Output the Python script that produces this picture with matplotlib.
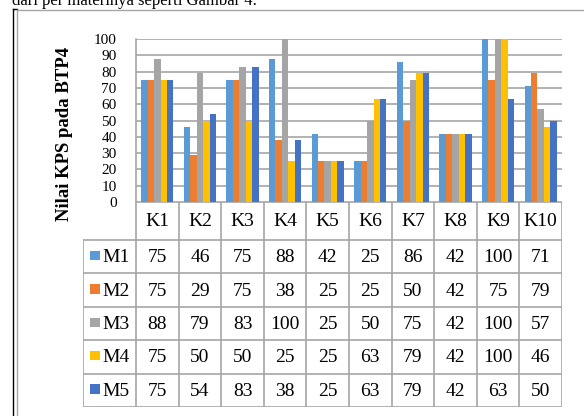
import numpy as np
import matplotlib.pyplot as plt
from matplotlib.patches import Rectangle
from matplotlib.lines import Line2D

plt.rcParams['font.family'] = ['Liberation Serif', 'DejaVu Serif']

categories = ["K1", "K2", "K3", "K4", "K5", "K6", "K7", "K8", "K9", "K10"]
series = ["M1", "M2", "M3", "M4", "M5"]
m1 = [75, 46, 75, 88, 42, 25, 86, 42, 100, 71]
m2 = [75, 29, 75, 38, 25, 25, 50, 42, 75, 79]
m3 = [88, 79, 83, 100, 25, 50, 75, 42, 100, 57]
m4 = [75, 50, 50, 25, 25, 63, 79, 42, 100, 46]
m5 = [75, 54, 83, 38, 25, 63, 79, 42, 63, 50]
values = [m1, m2, m3, m4, m5]
colors = ["#5B9BD5", "#ED7D31", "#A5A5A5", "#FFC000", "#4472C4"]
grid_c = "#A6A6A6"

W, H = 584, 416
fig = plt.figure(figsize=(W / 100, H / 100), dpi=100)


def fbox(x0, y0, x1, y1):
    # pixel box (top-left origin) -> figure fraction rect
    return [x0 / W, 1 - y1 / H, (x1 - x0) / W, (y1 - y0) / H]


# page frame and the caption line running off the top
fig.add_artist(Line2D([12.5 / W, 12.5 / W], [0, 1 - 9 / H], color="black", lw=1.0))
fig.add_artist(Line2D([12.5 / W, 16.5 / W], [1 - 9 / H, 1 - 9 / H], color="black", lw=1.0))
fig.add_artist(Line2D([16.5 / W, 16.5 / W], [0, 1 - 10 / H], color=grid_c, lw=1.0))
fig.add_artist(Line2D([16.5 / W, 1], [1 - 10 / H, 1 - 10 / H], color=grid_c, lw=1.0))
fig.text(12 / W, 1 - 5 / H, "dari per materinya seperti Gambar 4.", fontsize=12,
         va="baseline", ha="left")

# bar chart
ax = fig.add_axes(fbox(136, 39, 562, 202))
x = np.arange(len(categories))
bw = 0.152
for i, (name, vals) in enumerate(zip(series, values)):
    ax.bar(x + (i - 2) * bw, vals, bw, color=colors[i], zorder=3)
ax.set_xlim(-0.5, len(categories) - 0.5)
ax.set_ylim(0, 100)
ax.set_yticks(range(0, 101, 10))
ax.set_xticks([])
ax.yaxis.grid(True, color=grid_c, lw=1.2, zorder=0)
for s in ["top", "right", "bottom"]:
    ax.spines[s].set_visible(False)
ax.spines["left"].set_color(grid_c)
ax.spines["left"].set_linewidth(1.2)
ax.tick_params(axis="y", length=0, pad=14, labelsize=11)
ax.set_ylabel("Nilai KPS pada BTP4", fontsize=13.5, fontweight="bold", labelpad=15)
ax.yaxis.label.set_y(0.42)

# data table under the bars
tab = fig.add_axes(fbox(83, 202, 562, 407))
leg_w = 53 / 42.6
hdr = 38
row = (205 - hdr) / len(series)
tab.set_xlim(-0.5 - leg_w, len(categories) - 0.5)
tab.set_ylim(205, 0)
tab.axis("off")
lk = dict(color=grid_c, lw=1.2, solid_capstyle="projecting")
tab.plot([-0.5, len(categories) - 0.5], [0, 0], **lk)
for j in range(len(categories) + 1):
    tab.plot([j - 0.5, j - 0.5], [0, 205], **lk)
tab.plot([-0.5 - leg_w, -0.5 - leg_w], [hdr, 205], **lk)
for r in range(len(series) + 1):
    tab.plot([-0.5 - leg_w, len(categories) - 0.5], [hdr + r * row] * 2, **lk)
for j, c in enumerate(categories):
    tab.text(j, hdr / 2 + 1, c, ha="center", va="center", fontsize=14)
for r, (name, vals) in enumerate(zip(series, values)):
    yc = hdr + (r + 0.5) * row
    tab.add_patch(Rectangle((-0.5 - leg_w + 7 / 42.6, yc - 6), 9.5 / 42.6, 9.5,
                            color=colors[r], lw=0))
    tab.text(-0.5 - leg_w + 19.5 / 42.6, yc + 1, name, ha="left", va="center", fontsize=14)
    for j, v in enumerate(vals):
        tab.text(j, yc + 1, str(v), ha="center", va="center", fontsize=14)

fig.savefig("out.png", dpi=100)
